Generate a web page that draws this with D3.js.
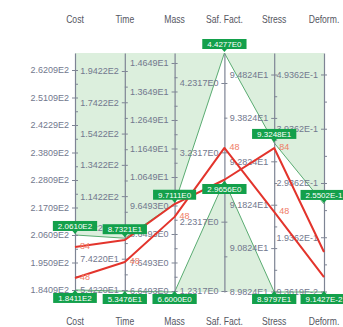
<!DOCTYPE html>
<html>
<head>
<meta charset="utf-8">
<script src="https://cdn.jsdelivr.net/npm/d3@7"></script>
<style>
  html, body { margin: 0; padding: 0; background: #ffffff; }
  svg { display: block; }
</style>
</head>
<body>
<svg id="chart" width="343" height="327"></svg>
<script>
// Design objectives shown as parallel axes
const axes = ["Cost", "Time", "Mass", "Saf. Fact.", "Stress", "Deform."];
const axisLow  = [183.29, 52.94, 6.614, 1.6976, 89.8125, 0.0927];
const axisHigh = [278.89, 205.72, 15.0, 4.4277, 95.32, 0.5332];

// Tick placement (in data units) and the tick texts, bottom to top
const tickFirst = [184.09, 54.22, 6.6493, 1.709, 89.824, 0.093619];
const tickStep  = [11, 20, 1, 0.792, 1, 0.1];
const costTicks   = ["1.8409E2", "1.9509E2", "2.0609E2", "2.1709E2", "2.2809E2", "2.3809E2", "2.4229E2", "2.5109E2", "2.6209E2"];
const timeTicks   = ["5.4220E1", "7.4220E1", "9.4220E1", "1.1422E2", "1.3422E2", "1.5422E2", "1.7422E2", "1.9422E2"];
const massTicks   = ["6.6493E0", "7.6493E0", "8.6493E0", "9.6493E0", "1.0649E1", "1.1649E1", "1.2649E1", "1.3649E1", "1.4649E1"];
const safTicks    = ["1.2317E0", "2.2317E0", "3.2317E0", "4.2317E0"];
const stressTicks = ["8.9824E1", "9.0824E1", "9.1824E1", "9.2824E1", "9.3824E1", "9.4824E1"];
const deformTicks = ["9.3619E-2", "1.9362E-1", "2.9362E-1", "3.9362E-1", "4.9362E-1"];
const tickLabels = [costTicks, timeTicks, massTicks, safTicks, stressTicks, deformTicks];

// Filter range on every objective (upper and lower limit)
const rangeHigh = [206.10, 87.321, 9.7111, 4.4277, 93.248, 0.25502];
const rangeLow  = [184.11, 53.476, 6.6000, 2.9656, 89.797, 0.091427];

// Two highlighted designs
const designIds = ["84", "48"];
const design84 = [201.3, 86.2, 9.70, 2.98, 93.13, 0.1664];
const design48 = [188.9, 72.1, 9.25, 3.343, 91.66, 0.1203];
const designs = [design84, design48];
// Design id tags: [design index, axis index]
const idTags = [[0, 0], [1, 0], [1, 1], [1, 2], [1, 3], [0, 4], [1, 4]];

// ---- layout ----
const yTop = 53, yBottom = 292;
const xLeft = 75, xRight = 324;

const svg = d3.select("#chart");
const x = d3.scalePoint().domain(axes).range([xLeft, xRight]);
const ys = axes.map((a, i) =>
  d3.scaleLinear().domain([axisLow[i], axisHigh[i]]).range([yBottom, yTop]));

const px = i => x(axes[i]);
const fmtE = v => v.toExponential(4).toUpperCase().replace("+", "");

const tickValues = tickLabels.map((labs, i) => labs.map((_, j) => tickFirst[i] + j * tickStep[i]));

const FILL = "#dcefdd";
const EDGE = "#5aac72";
const BOX = "#13a04b";
const RED = "#e3342c";
const TAG = "#ef7c66";
const AXIS = "#7e8494";
const TEXT = "#72788e";
const TITLE = "#55565f";

// ---- shaded regions outside the filter range ----
const highPts = axes.map((a, i) => [px(i), ys[i](rangeHigh[i])]);
const lowPts  = axes.map((a, i) => [px(i), Math.min(yBottom, ys[i](rangeLow[i]))]);

const topPoly = axes.map((a, i) => [px(i), yTop]).concat(highPts.slice().reverse());
const botPoly = lowPts.concat(axes.map((a, i) => [px(i), yBottom]).reverse());

svg.append("path").attr("d", "M" + topPoly.join("L") + "Z").attr("fill", FILL);
svg.append("path").attr("d", "M" + botPoly.join("L") + "Z").attr("fill", FILL);

const lineGen = d3.line();
svg.append("path").attr("d", lineGen(highPts)).attr("fill", "none")
  .attr("stroke", EDGE).attr("stroke-width", 1);
svg.append("path").attr("d", lineGen(lowPts)).attr("fill", "none")
  .attr("stroke", EDGE).attr("stroke-width", 1);

// ---- axes ----
axes.forEach((name, i) => {
  const g = svg.append("g").attr("transform", `translate(${px(i)},0)`);
  g.call(d3.axisLeft(ys[i])
    .tickValues(tickValues[i])
    .tickFormat((d, j) => tickLabels[i][j])
    .tickSizeInner(3).tickSizeOuter(0).tickPadding(3));
  g.attr("font-family", "'Liberation Sans', Arial, sans-serif").attr("font-size", 9);
  g.select(".domain").attr("stroke", AXIS).attr("stroke-width", 1.2);
  g.selectAll(".tick line").attr("stroke", AXIS);
  g.selectAll(".tick").append("line").attr("x1", 0).attr("x2", 3).attr("stroke", AXIS);
  g.selectAll(".tick text").attr("fill", TEXT);
  // minor ticks halfway between labelled ticks
  const tv = tickValues[i];
  const mids = d3.pairs(tv).map(([a, b]) => (a + b) / 2);
  g.selectAll(".minor").data(mids).enter().append("line")
    .attr("class", "minor")
    .attr("x1", 0).attr("x2", 3)
    .attr("y1", d => ys[i](d) + 0.5).attr("y2", d => ys[i](d) + 0.5)
    .attr("stroke", AXIS);
});

// ---- axis titles, top and bottom (narrow lettering) ----
[23, 325].forEach(yy => {
  svg.selectAll(null).data(axes).enter().append("text")
    .attr("transform", d => `translate(${x(d)},${yy}) scale(0.82,1)`)
    .attr("text-anchor", "middle")
    .attr("font-family", "'Liberation Sans', Arial, sans-serif").attr("font-size", 10.5)
    .attr("fill", TITLE)
    .text(d => d);
});

// ---- highlighted designs ----
const designLine = d3.line().x((d, i) => px(i)).y((d, i) => ys[i](d));
designs.forEach(vals => {
  svg.append("path").attr("d", designLine(vals)).attr("fill", "none")
    .attr("stroke", RED).attr("stroke-width", 2).attr("stroke-linejoin", "round");
});

svg.selectAll(".tag").data(idTags).enter().append("text")
  .attr("class", "tag")
  .attr("x", d => px(d[1]) + 5)
  .attr("y", d => ys[d[1]](designs[d[0]][d[1]]) + 2)
  .attr("font-family", "'Liberation Sans', Arial, sans-serif").attr("font-size", 9)
  .attr("fill", TAG)
  .text(d => designIds[d[0]]);

// ---- range limit markers ----
function marker(i, value, above) {
  const cx = px(i);
  const cy = Math.min(yBottom - 1, ys[i](value));
  const g = svg.append("g");
  const t = g.append("text")
    .attr("x", cx).attr("text-anchor", "middle")
    .attr("font-family", "'Liberation Sans', Arial, sans-serif").attr("font-size", 8)
    .attr("fill", "#ffffff")
    .text(fmtE(value));
  const w = t.node().getComputedTextLength() + 10;
  const h = 10;
  const top = above ? cy - 4 - h : cy + 3;
  g.insert("rect", "text")
    .attr("x", cx - w / 2).attr("y", top).attr("width", w).attr("height", h)
    .attr("fill", BOX);
  const tip = above
    ? [[cx - 3, cy - 4.5], [cx + 3, cy - 4.5], [cx, cy - 1]]
    : [[cx - 3, cy + 3.5], [cx + 3, cy + 3.5], [cx, cy]];
  g.insert("path", "text").attr("d", "M" + tip.join("L") + "Z").attr("fill", BOX);
  t.attr("y", top + h - 2.2);
}
axes.forEach((a, i) => {
  marker(i, rangeHigh[i], true);
  marker(i, rangeLow[i], false);
});
</script>
</body>
</html>
